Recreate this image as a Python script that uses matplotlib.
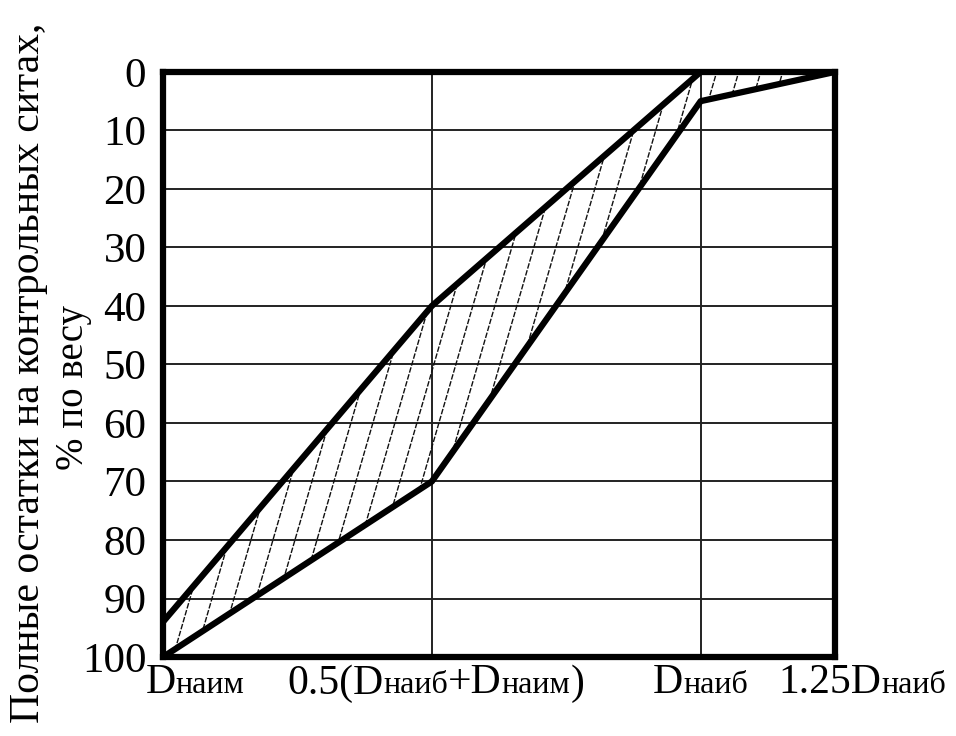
import numpy as np
import matplotlib
matplotlib.use('Agg')
import matplotlib.pyplot as plt
from matplotlib.collections import LineCollection
from matplotlib.offsetbox import TextArea, HPacker, AnnotationBbox

plt.rcParams['font.family'] = ['Liberation Serif', 'DejaVu Serif']

# grading envelope: x in units of sieve position, y = residue, % by weight
upper_x = [0, 1, 2]
upper_y = [94, 40, 0]
lower_x = [0, 1, 2, 2.5]
lower_y = [100, 70, 5, 0]

y_ticks = [0, 10, 20, 30, 40, 50, 60, 70, 80, 90, 100]
x_grid = [1, 2]

# x labels: list of (text, is_subscript) pieces, and x position (data)
x_labels = [
    ([('D', False), ('наим', True)], 0.12),
    ([('0.5(D', False), ('наиб', True), ('+D', False), ('наим', True), (')', False)], 1.015),
    ([('D', False), ('наиб', True)], 2.0),
    ([('1.25D', False), ('наиб', True)], 2.6),
]

fig = plt.figure(figsize=(9.56, 7.36), dpi=100)
ax = fig.add_axes([0.1705, 0.1073, 0.703, 0.795])
ax.set_xlim(0, 2.5)
ax.set_ylim(100, 0)

for y in y_ticks[1:-1]:
    ax.axhline(y, color='#222222', lw=1.4, zorder=1)
for x in x_grid:
    ax.axvline(x, color='#222222', lw=1.4, zorder=1)

# hatched zone between curves
poly_x = upper_x + lower_x[::-1]
poly_y = upper_y + lower_y[::-1]
patch = ax.fill(poly_x, poly_y, facecolor='none', edgecolor='none')[0]
slope = 0.29 * 585 / 672
step = 22 / 672
segs = [[(c, 0), (c + slope, 1)] for c in np.arange(-1, 1.2, step)]
hatch = LineCollection(segs, colors='#111111', linewidths=1.0,
                       linestyles=[(0, (4, 1.2))], transform=ax.transAxes, zorder=2)
ax.add_collection(hatch)
hatch.set_clip_path(patch)

ax.plot(upper_x, upper_y, color='black', lw=4.5, zorder=3)
ax.plot(lower_x, lower_y, color='black', lw=4.5, zorder=3)

for s in ax.spines.values():
    s.set_linewidth(4.5)
    s.set_zorder(4)

ax.set_xticks([])
ax.set_yticks(y_ticks)
ax.set_yticklabels([str(v) for v in y_ticks], fontsize=31)
ax.tick_params(axis='y', length=0, pad=12)

for pieces, xpos in x_labels:
    parts = [TextArea(t, textprops=dict(fontsize=23 if sub else 30,
                                        family=['Liberation Serif', 'DejaVu Serif']))
             for t, sub in pieces]
    box = HPacker(children=parts, align='baseline', pad=0, sep=0)
    ab = AnnotationBbox(box, (xpos, 0), xycoords=('data', 'axes fraction'),
                        xybox=(0, -5), boxcoords='offset points',
                        box_alignment=(0.5, 1), frameon=False, pad=0)
    ax.add_artist(ab)

fig.text(0.030, 0.494, 'Полные остатки на контрольных ситах,', rotation=90,
         fontsize=30, ha='center', va='center')
fig.text(0.077, 0.473, '% по весу', rotation=90, fontsize=28, ha='center', va='center')

fig.savefig('out.png', dpi=100)
